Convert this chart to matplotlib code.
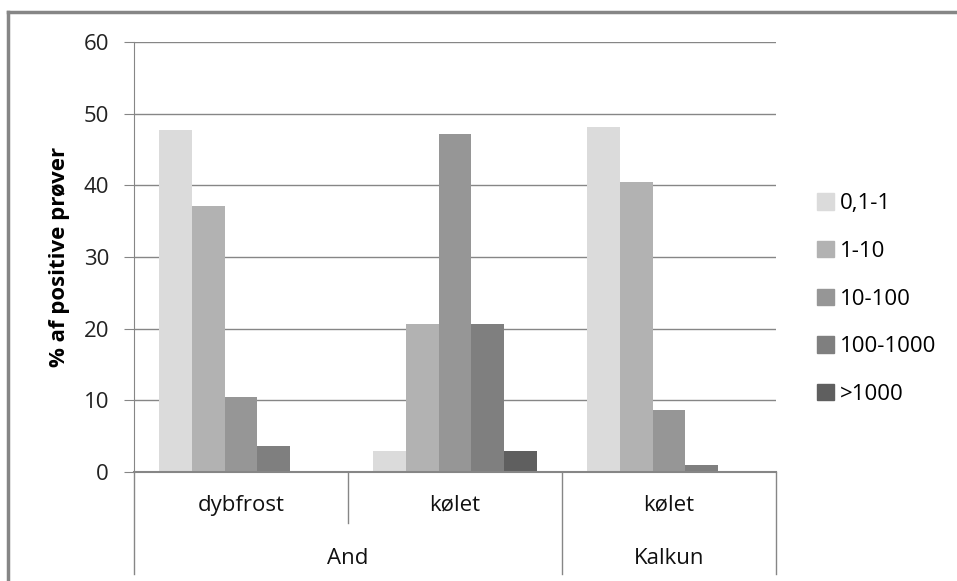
import numpy as np
import matplotlib
matplotlib.use("Agg")
import matplotlib.pyplot as plt
from matplotlib.lines import Line2D
from matplotlib.patches import Patch

# data
groups = ["dybfrost", "kølet", "kølet"]
animals = ["And", "Kalkun"]
series = ["0,1-1", "1-10", "10-100", "100-1000", ">1000"]
v_01_1 = [47.7, 2.9, 48.1]
v_1_10 = [37.1, 20.6, 40.4]
v_10_100 = [10.5, 47.1, 8.7]
v_100_1000 = [3.6, 20.6, 1.0]
v_gt_1000 = [0.0, 2.9, 0.0]
colors = ["#dbdbdb", "#b2b2b2", "#969696", "#7f7f7f", "#5f5f5f"]

values = [v_01_1, v_1_10, v_10_100, v_100_1000, v_gt_1000]
grey = "#868686"
fs = 16

plt.rcParams['font.family'] = ['Open Sans', 'DejaVu Sans']

W, H = 957, 581
fig = plt.figure(figsize=(W / 100, H / 100), dpi=100)
x0, x1, y0, y1 = 134, 776, 42, 472
ax = fig.add_axes([x0 / W, 1 - y1 / H, (x1 - x0) / W, (y1 - y0) / H])

n = len(series)
w = 1 / (n + 1.5)
x = np.arange(len(groups)) + 0.5
for i, (vals, c) in enumerate(zip(values, colors)):
    ax.bar(x + (i - (n - 1) / 2) * w, vals, width=w, color=c, zorder=2)

ax.set_xlim(0, len(groups))
ax.set_ylim(0, 60)
ax.set_yticks(range(0, 61, 10))
ax.set_xticks([])
ax.grid(axis="y", color=grey, linewidth=1, zorder=0)
for s in ["top", "right"]:
    ax.spines[s].set_visible(False)
ax.spines["left"].set_color(grey)
ax.spines["bottom"].set_color(grey)
ax.spines["bottom"].set_linewidth(1.5)
ax.tick_params(axis="y", length=7, color=grey, labelsize=fs, pad=11,
               labelcolor="#222222")
ax.set_ylabel("% af positive prøver", fontsize=fs, fontweight="bold",
              labelpad=10)

# category axis below the plot
tr = ax.get_xaxis_transform()
for xx, bottom in [(0, -0.237), (1, -0.119), (2, -0.237), (3, -0.237)]:
    ax.plot([xx, xx], [0, bottom], transform=tr, color=grey, lw=1,
            clip_on=False)
for xx, g in zip(x, groups):
    ax.text(xx, -0.077, g, transform=tr, ha="center", va="center",
            fontsize=fs, color="#111111")
ax.text(1.0, -0.2, animals[0], transform=tr, ha="center", va="center",
        fontsize=fs, color="#111111")
ax.text(2.5, -0.2, animals[1], transform=tr, ha="center", va="center",
        fontsize=fs, color="#111111")

handles = [Patch(color=c) for c in colors]
fig.legend(handles, series, loc="center left", bbox_to_anchor=(817 / W, 1 - 299 / H),
           frameon=False, fontsize=fs, handlelength=0.75, handleheight=0.75,
           handletextpad=0.3, labelspacing=1.2, borderpad=0, borderaxespad=0)

# outer chart frame (cropped on right and bottom)
fig.add_artist(Line2D([8 / W, 8 / W], [0, 1 - 12 / H], color=grey, lw=2.5))
fig.add_artist(Line2D([8 / W, 1], [1 - 12 / H, 1 - 12 / H], color=grey, lw=2.5))

fig.savefig("out.png", dpi=100)
